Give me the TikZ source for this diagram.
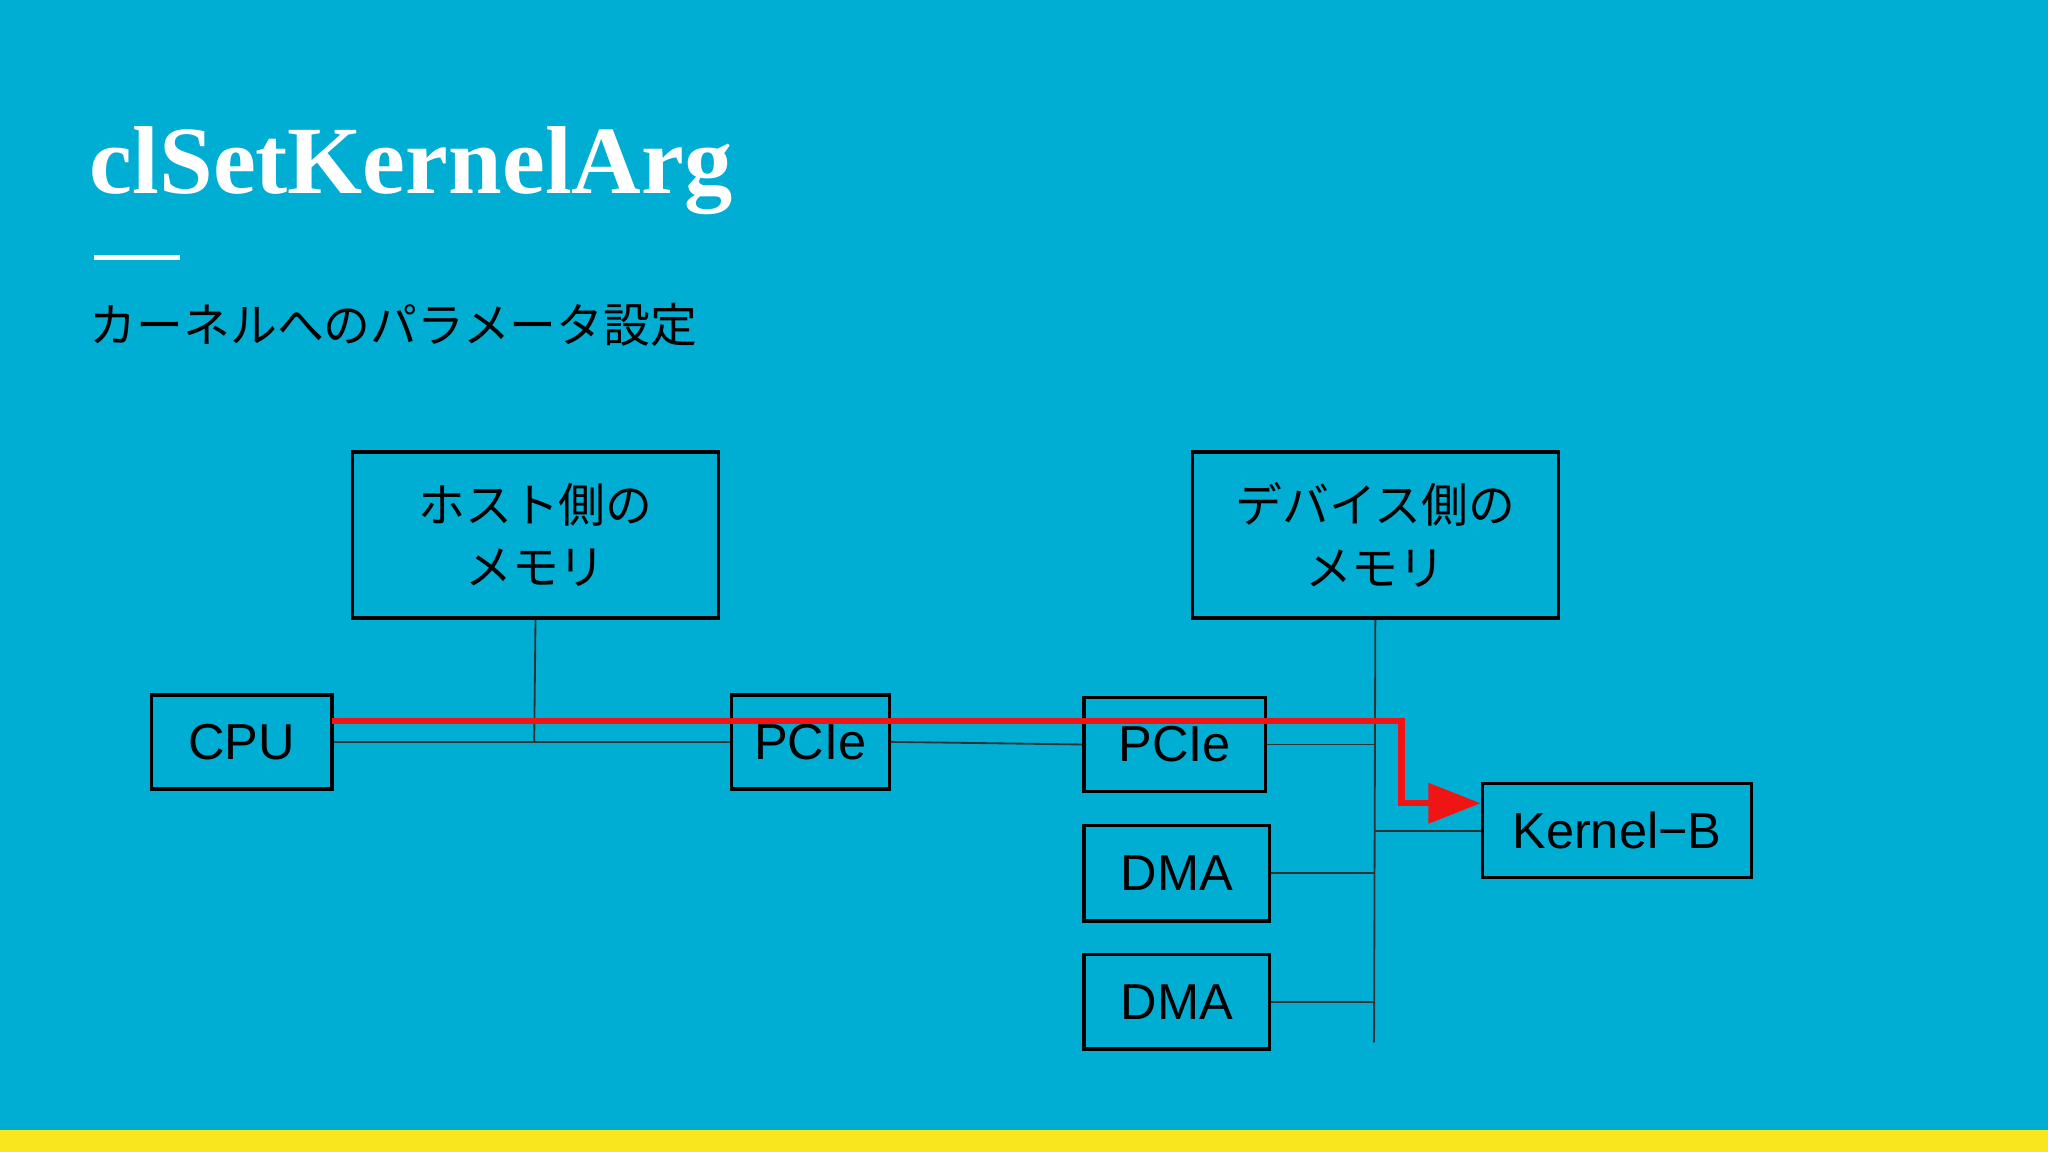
\documentclass[tikz,border=0pt]{standalone}
\usepackage{fontspec}
\setmainfont{Liberation Sans}
\newfontfamily\jp{Noto Sans CJK JP}
\newfontfamily\ttl{Liberation Serif}
\usetikzlibrary{arrows.meta}
\definecolor{bg}{RGB}{0,174,212}
\definecolor{yel}{RGB}{250,230,30}
\definecolor{rd}{RGB}{240,20,20}
\begin{document}
\begin{tikzpicture}[x=0.01cm,y=-0.01cm,
  bx/.style={draw=black,line width=0.75pt,inner sep=0pt,font=\fontsize{11}{13}\selectfont},
  jbx/.style={bx,align=center,font=\jp\fontsize{10.2}{13.6}\selectfont},
  thin/.style={draw=black!80,line width=0.4pt}]
\fill[bg] (0,0) rectangle (1568,882);
\fill[yel] (0,865) rectangle (1568,882);
\useasboundingbox (0,0) rectangle (1568,882);
\node[anchor=base west,inner sep=0pt,text=white,font=\ttl\bfseries\fontsize{21}{24}\selectfont] (title) at (68,148) {clSetKernelArg};
\draw[white,line width=1.1pt] (72,197) -- (138,197);
\node[anchor=base west,inner sep=0pt,font=\jp\fontsize{10.2}{12}\selectfont] (sub) at (68,262) {カーネルへのパラメータ設定};
\node[jbx,minimum width=2.8cm,minimum height=1.27cm] (hm) at (410,409.5) {ホスト側の\\メモリ};
\node[jbx,minimum width=2.8cm,minimum height=1.27cm] (dm) at (1053,409.5) {デバイス側の\\メモリ};
\node[bx,minimum width=1.38cm,minimum height=0.72cm] (cpu) at (185,568) {\raisebox{-1pt}{CPU}};
\node[bx,minimum width=1.21cm,minimum height=0.72cm] (p1) at (620.5,568) {\raisebox{-1pt}{PCIe}};
\node[bx,minimum width=1.39cm,minimum height=0.72cm] (p2) at (899.5,570) {\raisebox{-1pt}{PCIe}};
\node[bx,minimum width=1.42cm,minimum height=0.73cm] (d1) at (901,668.5) {\raisebox{-1pt}{DMA}};
\node[bx,minimum width=1.42cm,minimum height=0.72cm] (d2) at (901,767) {\raisebox{-1pt}{DMA}};
\node[bx,minimum width=2.06cm,minimum height=0.72cm] (kb) at (1238,636) {Kernel−B};
\coordinate (hj) at (409,568);
\coordinate (bt) at (1052,798);
\draw[thin] (cpu.east) -- (p1.west);
\draw[thin] (hm.south) -- (hj);
\draw[thin] (p1.east) -- (p2.west);
\draw[thin] (dm.south) -- (bt);
\draw[thin] (p2.east) -- (p2.east -| bt);
\draw[thin] (d1.east) -- (d1.east -| bt);
\draw[thin] (d2.east) -- (d2.east -| bt);
\draw[thin] (kb.west) -- (kb.west -| bt);
\coordinate (rs) at (254,552);
\coordinate (rc) at (1073,552);
\draw[rd,line width=1.4pt,-{Triangle[length=0.4cm,width=0.3cm]}] (rs) -- (rc) -- (1073,615) -- (kb.west |- 0,615);
\end{tikzpicture}
\end{document}
